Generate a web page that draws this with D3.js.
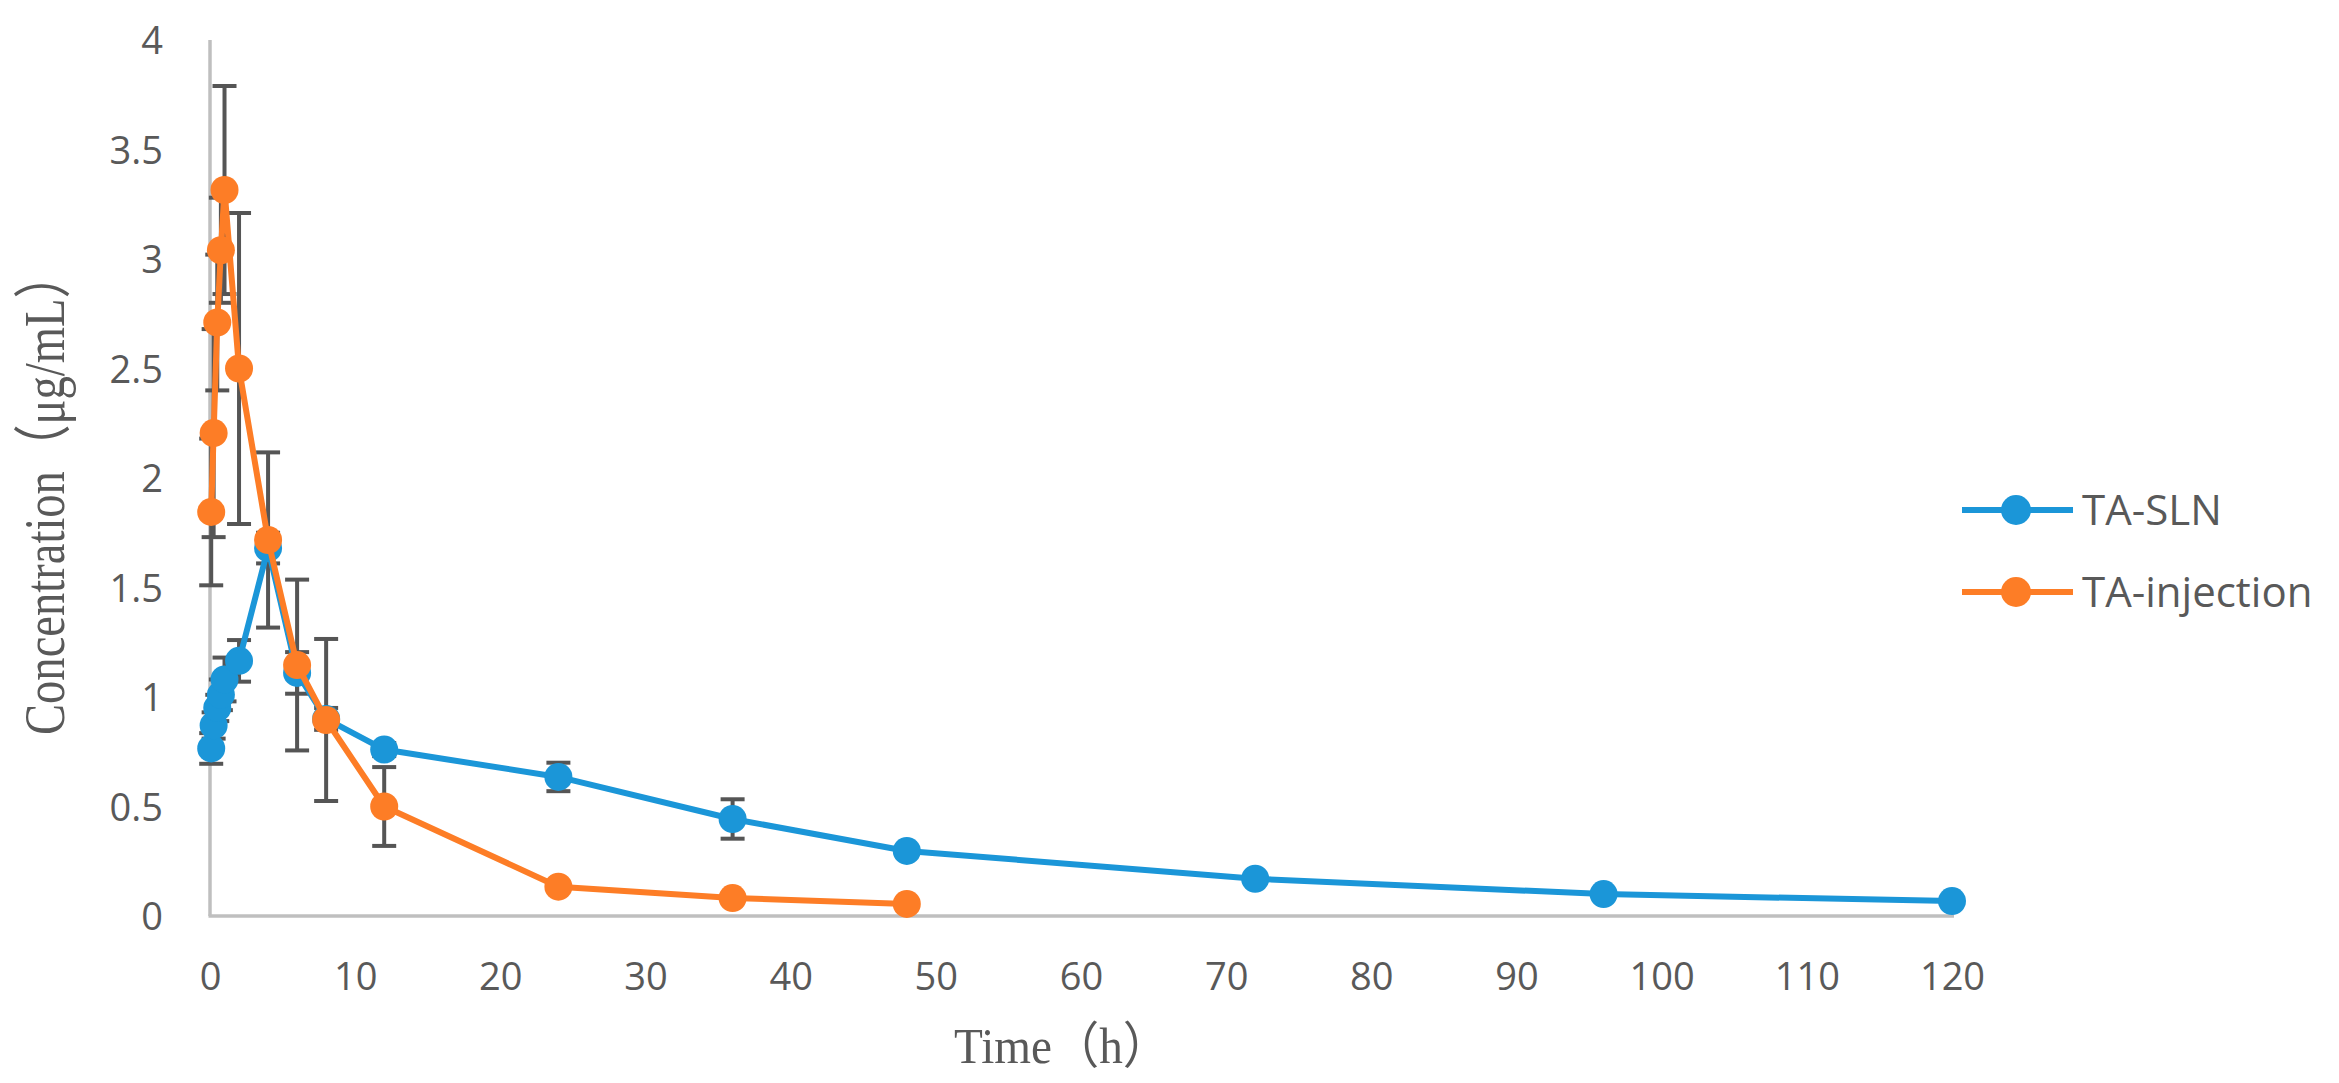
<!DOCTYPE html>
<html>
<head>
<meta charset="utf-8">
<script src="https://cdn.jsdelivr.net/npm/d3@7"></script>
<style>
  html, body { margin: 0; padding: 0; background: #ffffff; }
  svg { display: block; }
</style>
</head>
<body>
<script>
// ---- data ----
const slnTime = [0.083, 0.25, 0.5, 0.75, 1, 2, 4, 6, 8, 12, 24, 36, 48, 72, 96, 120];
const slnConc = [0.765, 0.87, 0.95, 1.01, 1.08, 1.165, 1.68, 1.11, 0.90, 0.76, 0.635, 0.443, 0.297, 0.17, 0.10, 0.068];
const slnSD   = [0.07, 0.06, 0.06, 0.07, 0.10, 0.095, 0.07, 0.095, 0.05, 0.03, 0.065, 0.09, 0.02, 0.02, 0.02, 0.01];

const injTime = [0.083, 0.25, 0.5, 0.75, 1, 2, 4, 6, 8, 12, 24, 36, 48];
const injConc = [1.845, 2.205, 2.71, 3.04, 3.315, 2.50, 1.717, 1.146, 0.895, 0.50, 0.134, 0.082, 0.055];
const injSD   = [0.335, 0.475, 0.31, 0.24, 0.475, 0.71, 0.40, 0.39, 0.37, 0.18, 0.02, 0.02, 0.01];

const seriesNames = ["TA-SLN", "TA-injection"];
const xTicks = [0, 10, 20, 30, 40, 50, 60, 70, 80, 90, 100, 110, 120];
const yTicks = [0, 0.5, 1, 1.5, 2, 2.5, 3, 3.5, 4];
const xTitle = "Time（h）";
const yTitle = "Concentration（μg/mL）";

// ---- layout / styles ----
const W = 2339, H = 1083;
const colors = ["#1b96d8", "#fd7d26"];
const textColor = "#595959";
const axisColor = "#bfbfbf";

const svg = d3.select("body").append("svg").attr("width", W).attr("height", H);

const x = d3.scaleLinear().domain([0, 120]).range([210, 1952]);
const y = d3.scaleLinear().domain([0, 4]).range([916, 40]);

// axes lines
svg.append("line").attr("x1", x(0)).attr("x2", x(0)).attr("y1", y(4)).attr("y2", y(0))
  .attr("stroke", axisColor).attr("stroke-width", 3.5);
svg.append("line").attr("x1", x(0) - 1.5).attr("x2", x(120) + 2).attr("y1", y(0)).attr("y2", y(0))
  .attr("stroke", axisColor).attr("stroke-width", 3.5);

// tick labels via d3 axes (no tick lines)
const yAxis = d3.axisLeft(y).tickValues(yTicks).tickSize(0).tickPadding(0).tickFormat(d => String(d));
const gy = svg.append("g").attr("transform", "translate(163,0)").call(yAxis);
gy.select(".domain").remove();
gy.selectAll("text").attr("font-family", "'Open Sans', sans-serif").attr("font-size", 38)
  .attr("fill", textColor).attr("dy", "0.36em");

const xAxis = d3.axisBottom(x).tickValues(xTicks).tickSize(0).tickPadding(0).tickFormat(d => String(d));
const gx = svg.append("g").attr("transform", "translate(0,976)").call(xAxis);
gx.select(".domain").remove();
gx.selectAll("text").attr("font-family", "'Open Sans', sans-serif").attr("font-size", 38)
  .attr("fill", textColor).attr("dy", "0.36em");

// axis titles
svg.append("text").text(xTitle)
  .attr("x", 954).attr("y", 1063)
  .attr("font-family", "'Liberation Serif', 'Noto Sans CJK SC', serif")
  .attr("font-size", 50).attr("fill", textColor)
  .attr("textLength", 216).attr("lengthAdjust", "spacingAndGlyphs");

svg.append("text").text(yTitle)
  .attr("transform", "translate(64,735) rotate(-90)")
  .attr("x", 0).attr("y", 0)
  .attr("font-family", "'Liberation Serif', 'Noto Sans CJK SC', serif")
  .attr("font-size", 58).attr("fill", textColor)
  .attr("textLength", 483).attr("lengthAdjust", "spacingAndGlyphs");

// ---- series ----
const series = [
  { name: seriesNames[0], t: slnTime, c: slnConc, sd: slnSD, color: colors[0] },
  { name: seriesNames[1], t: injTime, c: injConc, sd: injSD, color: colors[1] }
].map(s => ({ ...s, pts: s.t.map((t, i) => ({ t, c: s.c[i], sd: s.sd[i] })) }));

// error bars beneath everything
const capHalf = 12;
const errG = svg.append("g").attr("stroke", "#555555").attr("stroke-width", 4);
series.forEach(s => {
  s.pts.forEach(p => {
    const xc = x(p.t), yt = y(p.c + p.sd), yb = y(p.c - p.sd);
    errG.append("line").attr("x1", xc).attr("x2", xc).attr("y1", yt).attr("y2", yb);
    errG.append("line").attr("x1", xc - capHalf).attr("x2", xc + capHalf).attr("y1", yt).attr("y2", yt);
    errG.append("line").attr("x1", xc - capHalf).attr("x2", xc + capHalf).attr("y1", yb).attr("y2", yb);
  });
});

const line = d3.line().x(d => x(d.t)).y(d => y(d.c));
series.forEach(s => {
  const g = svg.append("g");
  g.append("path").datum(s.pts).attr("d", line)
    .attr("fill", "none").attr("stroke", s.color).attr("stroke-width", 6)
    .attr("stroke-linejoin", "round");
  g.selectAll("circle").data(s.pts).join("circle")
    .attr("cx", d => x(d.t)).attr("cy", d => y(d.c)).attr("r", 14)
    .attr("fill", s.color);
});

// ---- legend ----
const legY = [510, 592];
series.forEach((s, i) => {
  const g = svg.append("g");
  g.append("line").attr("x1", 1962).attr("x2", 2073).attr("y1", legY[i]).attr("y2", legY[i])
    .attr("stroke", s.color).attr("stroke-width", 6);
  g.append("circle").attr("cx", 2016).attr("cy", legY[i]).attr("r", 15).attr("fill", s.color);
  g.append("text").text(s.name).attr("x", 2082).attr("y", legY[i]).attr("dy", "0.36em")
    .attr("font-family", "'Open Sans', sans-serif").attr("font-size", 42).attr("fill", textColor);
});
</script>
</body>
</html>
